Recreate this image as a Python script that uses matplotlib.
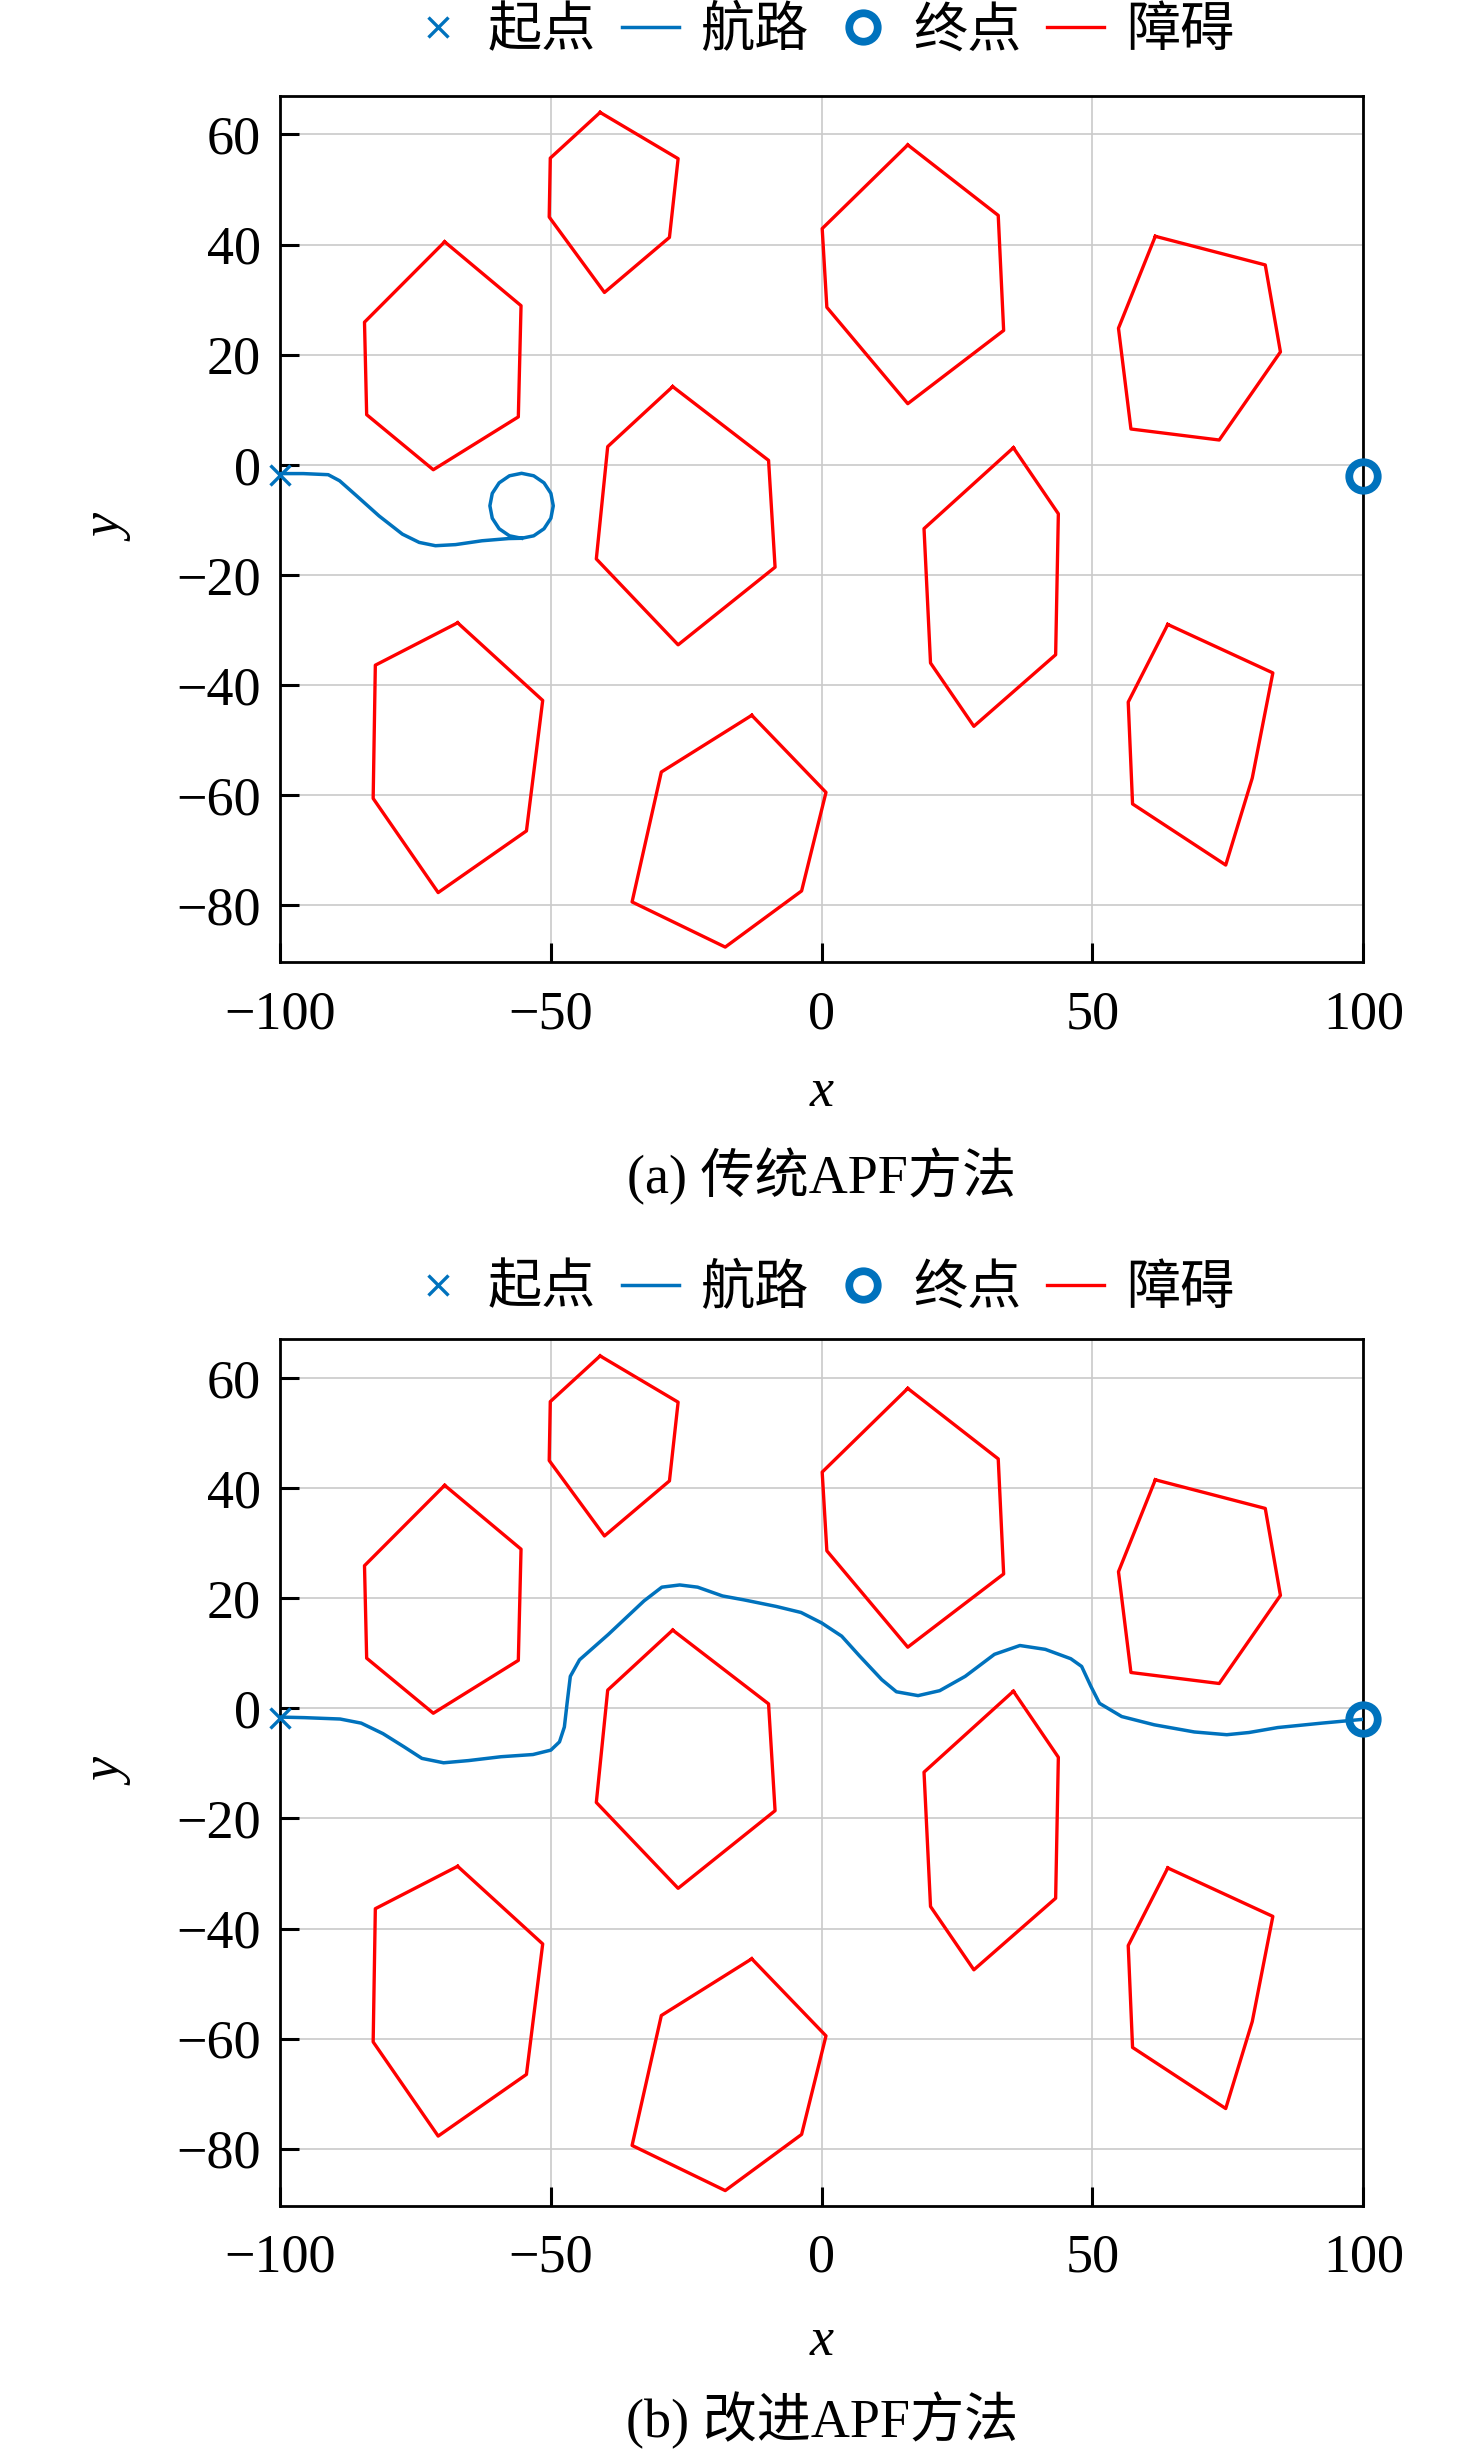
import matplotlib
matplotlib.use("Agg")
import matplotlib.pyplot as plt

plt.rcParams['font.family'] = ['Liberation Serif', 'Noto Sans CJK SC']
plt.rcParams['axes.unicode_minus'] = True

# obstacle polygons (vertices)
obs_x = [
    [-69.6, -55.5, -56.0, -71.7, -84.0, -84.4],
    [-40.9, -26.5, -28.1, -40.1, -50.3, -50.1],
    [-27.5, -9.8, -8.6, -26.5, -41.6, -39.5],
    [15.9, 32.6, 33.6, 15.9, 0.96, 0.1],
    [61.6, 81.9, 84.7, 73.4, 57.1, 54.8],
    [35.4, 43.7, 43.2, 28.1, 20.1, 18.9],
    [-67.2, -51.5, -54.5, -70.8, -82.8, -82.4],
    [-12.9, 0.8, -3.7, -17.8, -35.0, -29.6],
    [63.9, 83.3, 79.5, 74.6, 57.4, 56.6],
]
obs_y = [
    [40.5, 28.9, 8.7, -0.9, 9.1, 25.9],
    [64.0, 55.6, 41.3, 31.3, 45.0, 55.7],
    [14.2, 0.8, -18.6, -32.7, -17.1, 3.3],
    [58.1, 45.3, 24.4, 11.1, 28.6, 42.9],
    [41.5, 36.3, 20.5, 4.5, 6.5, 24.8],
    [3.1, -8.9, -34.5, -47.5, -36.0, -11.6],
    [-28.7, -42.8, -66.5, -77.7, -60.6, -36.4],
    [-45.5, -59.5, -77.4, -87.6, -79.4, -55.8],
    [-29.0, -37.8, -56.9, -72.7, -61.6, -43.1],
]

start = (-100, -1.8)
goal = (100, -2.0)

# (a) traditional APF: stuck in a loop near a local minimum
trad_x = [-100, -95.7, -91.1, -89.0, -85.9, -81.7, -77.4, -74.3, -71.3, -67.6,
          -62.7, -57.8, -55.4, -53.16, -51.26, -49.99, -49.55, -49.99, -51.26,
          -53.16, -55.4, -57.64, -59.54, -60.81, -61.25, -60.81, -59.54,
          -57.64, -55.4]
trad_y = [-1.6, -1.6, -1.8, -2.9, -5.6, -9.3, -12.6, -14.1, -14.7, -14.5,
          -13.8, -13.4, -13.35, -12.90, -11.62, -9.71, -7.45, -5.19, -3.28,
          -2.00, -1.55, -2.00, -3.28, -5.19, -7.45, -9.71, -11.62, -12.90,
          -13.35]

# (b) improved APF
impr_x = [-100, -95.5, -88.9, -85.0, -81.0, -77.1, -73.8, -69.8, -65.2, -59.2,
          -53.3, -50.0, -48.4, -47.5, -47.0, -46.4, -44.7, -39.4, -32.8, -29.5,
          -26.2, -22.9, -18.3, -14.4, -8.4, -3.8, 0.0, 3.7, 7.0, 11.1, 13.8,
          17.8, 21.8, 26.5, 31.9, 36.6, 41.3, 46.0, 48.0, 49.7, 51.3, 55.4,
          61.4, 68.8, 74.8, 78.9, 84.2, 92.3, 100]
impr_y = [-1.6, -1.7, -1.95, -2.7, -4.6, -7.0, -9.1, -9.9, -9.5, -8.8,
          -8.4, -7.6, -6.1, -3.4, 0.9, 5.8, 8.8, 13.4, 19.5, 22.0,
          22.4, 22.0, 20.4, 19.7, 18.5, 17.4, 15.5, 13.1, 9.5, 5.2, 3.0,
          2.3, 3.2, 5.8, 9.8, 11.4, 10.7, 9.0, 7.6, 4.0, 0.9, -1.5,
          -3.0, -4.3, -4.8, -4.4, -3.5, -2.7, -2.0]

x_ticks = [-100, -50, 0, 50, 100]
y_ticks = [60, 40, 20, 0, -20, -40, -60, -80]
captions = ['(a) 传统APF方法', '(b) 改进APF方法']
legend_labels = ['起点', '航路', '终点', '障碍']

blue = '#0072BD'
red = '#FF0000'
fs = 39

W, H = 1476, 2450
ax_left, ax_right = 280.0, 1363.3
fig = plt.figure(figsize=(W / 100, H / 100), dpi=100)

panels = [
    dict(bottom=962.5, px=trad_x, py=trad_y, leg=1.073, xl=-0.166, cap=1176.7),
    dict(bottom=2206.0, px=impr_x, py=impr_y, leg=1.057, xl=-0.172, cap=2420.0),
]

for i, p in enumerate(panels):
    ax = fig.add_axes([ax_left / W, 1 - p['bottom'] / H,
                       (ax_right - ax_left) / W, 866.6 / H])
    ax.set_xlim(-100, 100)
    ax.set_ylim(-90.4, 67.0)
    ax.grid(True, color='#cacaca', linewidth=1.2)
    ax.set_axisbelow(True)

    h_start, = ax.plot([start[0]], [start[1]], 'x', color=blue, ms=15, mew=2.4,
                       clip_on=False, zorder=5)
    h_path, = ax.plot(p['px'], p['py'], '-', color=blue, lw=2.5, zorder=4)
    h_goal, = ax.plot([goal[0]], [goal[1]], 'o', color=blue, mfc='none', ms=20.5,
                      mew=5.6, clip_on=False, zorder=5)
    for ox, oy in zip(obs_x, obs_y):
        h_obs, = ax.plot(ox + ox[:1], oy + oy[:1], '-', color=red, lw=2.4, zorder=3)

    ax.set_xticks(x_ticks)
    ax.set_yticks(y_ticks)
    ax.tick_params(direction='in', length=14, width=2.2, labelsize=fs,
                   top=False, right=False)
    ax.tick_params(axis='x', pad=19.5)
    ax.tick_params(axis='y', pad=14)
    for s in ax.spines.values():
        s.set_linewidth(2.0)

    ax.text(0.5, p['xl'], 'x', transform=ax.transAxes, ha='center',
            va='baseline', fontsize=fs, fontstyle='italic')
    ax.text(-0.157, 0.5, 'y', transform=ax.transAxes, ha='center',
            va='center', rotation=90, fontsize=fs, fontstyle='italic')

    ax.legend([h_start, h_path, h_goal, h_obs], legend_labels, loc='center',
              bbox_to_anchor=(0.5, p['leg']), ncol=4, frameon=False,
              fontsize=fs, handlelength=1.05, handletextpad=0.4,
              columnspacing=0.48, borderpad=0)

    fig.text((ax_left + ax_right) / 2 / W, 1 - p['cap'] / H, captions[i],
             ha='center', va='center', fontsize=fs)

fig.savefig('out.png', dpi=100)
